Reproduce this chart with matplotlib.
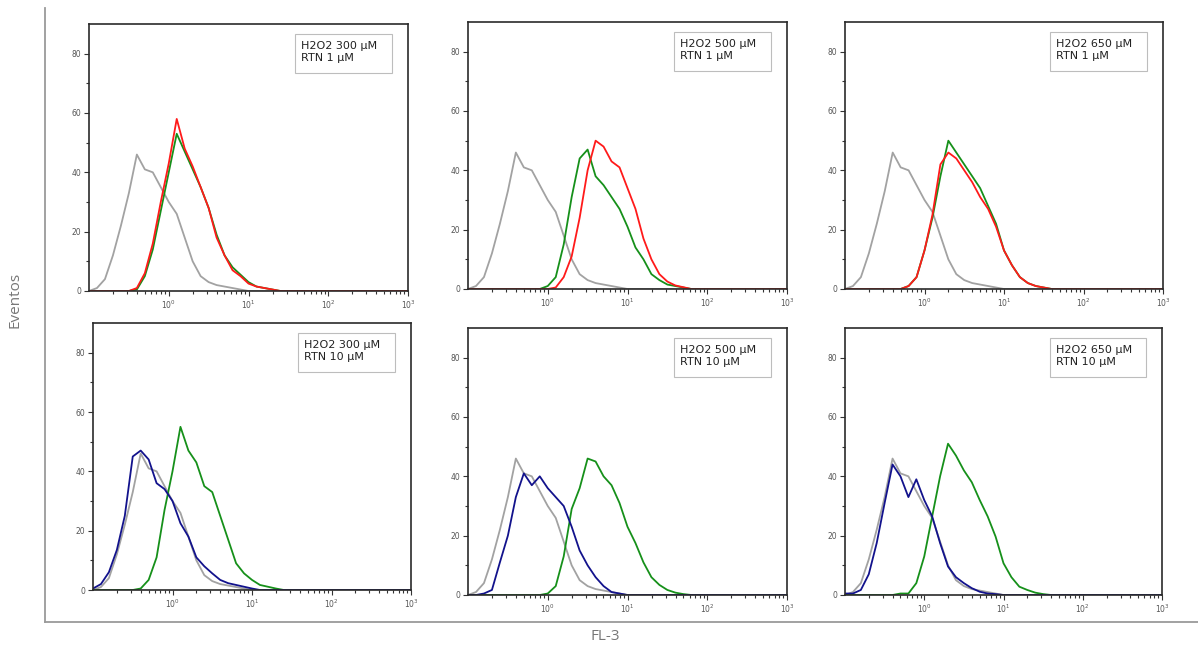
import numpy as np
import matplotlib.pyplot as plt
from matplotlib.lines import Line2D
from matplotlib.patches import Rectangle
from matplotlib.ticker import FixedLocator, LogLocator, NullFormatter

# canales FL-3 en log10, de 10^-1 a 10^3 cada 0.1 décadas
log_channels = np.linspace(-1.0, 3.0, 41)

# conteos por canal (empiezan en log10 = -1.0, paso 0.1); lo que falta es 0
control = [0, 1, 4, 12, 22, 33, 46, 41, 40, 35, 30, 26, 18, 10, 5, 3, 2, 1.5, 1, 0.5]

h2o2_300 = [0, 0, 0, 0, 0, 0, 0.5, 5, 14, 27, 40, 53, 47, 41, 35, 28, 19, 12, 8, 5.5,
            3, 1.5, 1, 0.5]
h2o2_300_rtn1 = [0, 0, 0, 0, 0, 0, 1, 6, 16, 30, 43, 58, 48, 42, 35, 28, 18, 12, 7, 5,
                 2.5, 1.5, 1, 0.5]
h2o2_300_b = [0, 0, 0, 0, 0, 0, 0.5, 3.4, 11, 27, 40, 55, 47, 43, 35, 33, 25, 17, 9, 5.6,
              3.4, 1.7, 1.1, 0.5]
h2o2_300_rtn10 = [0.5, 2, 6, 13.5, 25, 45, 47, 44, 36, 34, 30, 22.5, 18, 11, 8, 5.6, 3.4,
                  2.3, 1.7, 1.1, 0.5]

h2o2_500 = [0, 0, 0, 0, 0, 0, 0, 0, 0, 0, 1, 4, 15, 31, 44, 47, 38, 35, 31, 27,
            21, 14, 10, 5, 3, 1.5, 1, 0.5]
h2o2_500_rtn1 = [0, 0, 0, 0, 0, 0, 0, 0, 0, 0, 0, 0.5, 4, 11, 24, 40, 50, 48, 43, 41,
                 34, 27, 17, 10, 5, 2.5, 1.2, 0.6]
h2o2_500_b = [0, 0, 0, 0, 0, 0, 0, 0, 0, 0, 0.5, 3, 13, 29, 36, 46, 45, 40, 37, 31,
              23, 17.5, 11, 6, 3.4, 1.7, 0.8, 0.3]
h2o2_500_rtn10 = [0, 0, 0.5, 1.7, 11, 20, 33, 41, 37, 40, 36, 33, 30, 23, 15, 10, 6, 3,
                  1, 0.5]

h2o2_650 = [0, 0, 0, 0, 0, 0, 0, 0, 1, 4, 13, 24, 38, 50, 46, 42, 38, 34, 28, 22,
            13, 8, 4, 2, 1, 0.5]
h2o2_650_rtn1 = [0, 0, 0, 0, 0, 0, 0, 0, 1, 4, 13, 25, 42, 46, 44, 40, 36, 31, 27, 21,
                 13, 8, 4, 2, 1, 0.5]
h2o2_650_b = [0, 0, 0, 0, 0, 0, 0, 0.5, 0.5, 4, 13, 26.5, 40, 51, 47, 42, 38, 32, 26.5,
              19.7, 10.7, 6, 2.8, 1.7, 0.8, 0.3]
h2o2_650_rtn10 = [0.5, 0.5, 1.7, 7, 17.5, 31, 44, 40, 33, 39, 32, 26.5, 17.5, 9.6, 6, 4,
                  2.3, 1.1, 0.5, 0.3]

labels = ["H2O2 300 µM\nRTN 1 µM", "H2O2 500 µM\nRTN 1 µM", "H2O2 650 µM\nRTN 1 µM",
          "H2O2 300 µM\nRTN 10 µM", "H2O2 500 µM\nRTN 10 µM", "H2O2 650 µM\nRTN 10 µM"]

GRAY, GREEN, RED, BLUE = "#a2a2a2", "#16901a", "#ff1a1a", "#12128c"

paneles = [
    [(control, GRAY), (h2o2_300, GREEN), (h2o2_300_rtn1, RED)],
    [(control, GRAY), (h2o2_500, GREEN), (h2o2_500_rtn1, RED)],
    [(control, GRAY), (h2o2_650, GREEN), (h2o2_650_rtn1, RED)],
    [(control, GRAY), (h2o2_300_b, GREEN), (h2o2_300_rtn10, BLUE)],
    [(control, GRAY), (h2o2_500_b, GREEN), (h2o2_500_rtn10, BLUE)],
    [(control, GRAY), (h2o2_650_b, GREEN), (h2o2_650_rtn10, BLUE)],
]

W, H = 1198, 648
# cajas de cada panel en pixeles (x0, y0, x1, y1)
cajas = [(89, 24, 408, 291), (468, 22, 787, 289), (845, 22, 1163, 289),
         (93, 323, 411, 590), (468, 328, 787, 595), (845, 328, 1162, 595)]

fig = plt.figure(figsize=(W / 100, H / 100), dpi=100)
x = 10 ** log_channels

for (x0, y0, x1, y1), curvas, texto in zip(cajas, paneles, labels):
    ax = fig.add_axes([x0 / W, 1 - y1 / H, (x1 - x0) / W, (y1 - y0) / H])
    for vals, color in curvas:
        y = np.pad(np.asarray(vals, float), (0, len(x) - len(vals)))
        ax.plot(x, y, color=color, lw=1.3, solid_joinstyle="round")

    ax.set_xscale("log")
    ax.set_xlim(0.1, 1000)
    ax.set_ylim(0, 90)
    ax.xaxis.set_major_locator(FixedLocator([1, 10, 100, 1000]))
    ax.set_xticklabels(["$10^0$", "$10^1$", "$10^2$", "$10^3$"])
    ax.xaxis.set_minor_locator(LogLocator(base=10, subs=range(2, 10), numticks=20))
    ax.xaxis.set_minor_formatter(NullFormatter())
    ax.set_yticks([0, 20, 40, 60, 80])
    ax.yaxis.set_minor_locator(FixedLocator([10, 30, 50, 70]))
    ax.tick_params(which="both", direction="out", width=0.8, color="#333333",
                   labelsize=5.5, labelcolor="#555555", pad=2)
    ax.tick_params(which="major", length=3.5)
    ax.tick_params(which="minor", length=2)
    for s in ax.spines.values():
        s.set_color("#2a2a2a")
        s.set_linewidth(1.2)

    # recuadro con la condición
    ax.add_patch(Rectangle((0.646, 0.816), 0.304, 0.147, transform=ax.transAxes,
                           facecolor="white", edgecolor="#bdbdbd", lw=0.8, zorder=3))
    ax.text(0.665, 0.935, texto, transform=ax.transAxes, ha="left", va="top",
            fontsize=8, color="#222222", linespacing=1.15, zorder=4)

# marco exterior y títulos de ejes
fig.add_artist(Line2D([45 / W, 45 / W], [1 - 8 / H, 1 - 622 / H], color="#9a9a9a", lw=1.3))
fig.add_artist(Line2D([45 / W, 1.0], [1 - 622 / H, 1 - 622 / H], color="#9a9a9a", lw=1.3))
fig.text(15 / W, 1 - 300 / H, "Eventos", rotation=90, ha="center", va="center",
         fontsize=11, color="#777777", family="Open Sans")
fig.text(605 / W, 1 - 637 / H, "FL-3", ha="center", va="center",
         fontsize=11, color="#777777", family="Open Sans")

fig.savefig("out.png", dpi=100)
